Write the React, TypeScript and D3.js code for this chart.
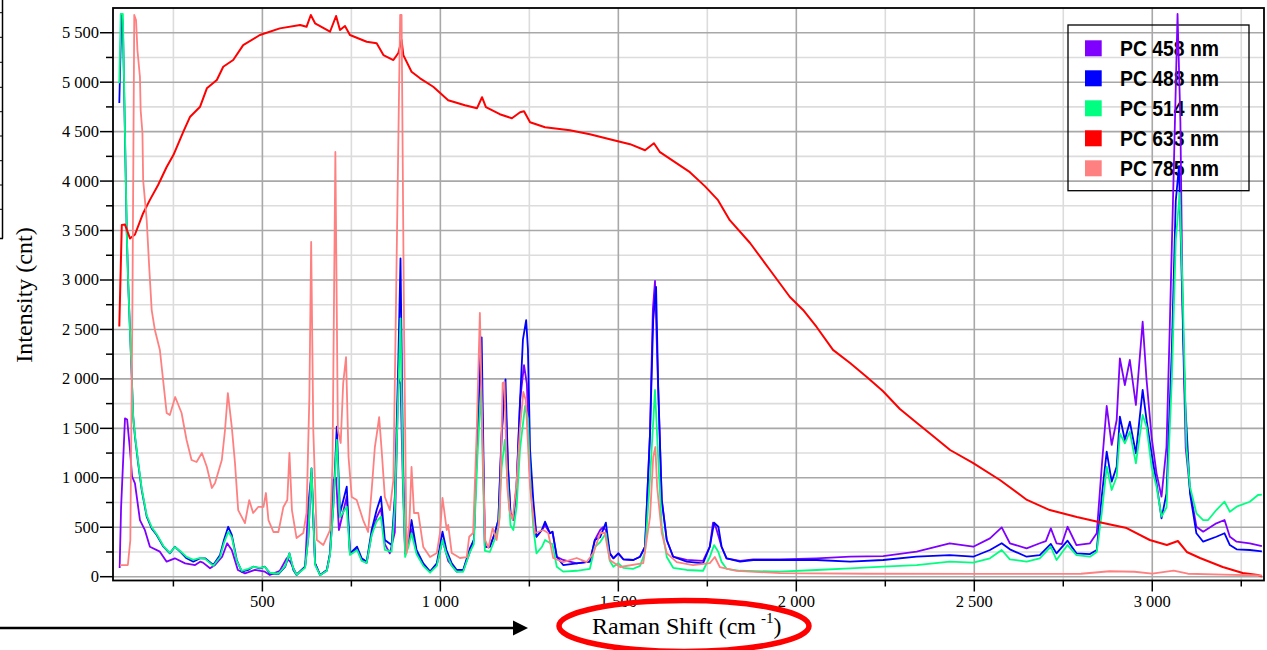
import React from 'react';
import * as d3 from 'd3';

// Raman spectra of polycarbonate at five excitation wavelengths: [shift cm-1, intensity cnt]
const pc458: [number, number][] = [
  [99,88],[103,700],[114,1601],[120,1590],[128,1281],[134,1011],[142,944],[156,573],[170,470],[184,303],[212,253],[231,152],[254,186],[283,135],[311,118],[325,152],[333,142],[353,85],[367,118],[387,202],[401,338],[414,270],[431,68],[451,34],[479,68],[507,51],[521,17],[549,60],[568,186],[578,152],[596,24],[620,101],[629,742],[638,1050],[648,135],[662,17],[681,60],[690,236],[699,978],[707,1000],[715,472],[737,809],[746,236],[766,280],[779,170],[793,140],[807,430],[821,600],[833,692],[844,330],[858,236],[872,450],[882,2000],[888,1950],[895,900],[901,236],[910,338],[919,480],[933,250],[952,120],[971,51],[990,120],[1006,371],[1022,160],[1046,51],[1064,60],[1083,250],[1094,371],[1104,1400],[1114,2350],[1125,303],[1139,303],[1153,439],[1163,573],[1172,1400],[1181,1960],[1190,1100],[1197,641],[1205,600],[1214,910],[1224,1786],[1235,2140],[1243,1950],[1252,1000],[1261,700],[1270,404],[1285,472],[1294,520],[1308,439],[1315,455],[1327,202],[1345,169],[1383,135],[1420,152],[1434,371],[1449,472],[1457,500],[1465,470],[1476,236],[1486,186],[1500,236],[1514,176],[1542,169],[1561,202],[1575,303],[1589,1450],[1597,2700],[1603,2990],[1611,2000],[1622,775],[1636,371],[1654,202],[1692,170],[1738,160],[1757,303],[1766,546],[1774,500],[1790,303],[1804,186],[1842,160],[1879,175],[1954,175],[2057,186],[2151,202],[2244,209],[2338,253],[2431,338],[2497,303],[2544,388],[2577,499],[2600,338],[2647,287],[2684,338],[2701,360],[2715,489],[2731,338],[2746,330],[2762,505],[2787,320],[2825,338],[2844,439],[2858,1112],[2872,1726],[2886,1332],[2900,1584],[2909,2208],[2923,1938],[2937,2191],[2954,1736],[2973,2578],[2984,1989],[2998,1415],[3012,1045],[3026,809],[3040,1314],[3049,2500],[3061,4200],[3071,5690],[3079,4600],[3086,2500],[3094,1300],[3106,877],[3124,505],[3143,455],[3180,540],[3203,573],[3218,404],[3237,354],[3274,338],[3308,310],
];

const pc488: [number, number][] = [
  [98,4790],[104,5690],[108,5600],[119,3473],[123,2966],[128,2494],[133,2022],[137,1618],[142,1415],[151,1146],[161,877],[175,607],[189,489],[203,422],[222,303],[240,236],[254,303],[269,253],[287,186],[306,152],[325,186],[339,186],[362,118],[381,219],[392,371],[404,505],[414,422],[428,169],[442,51],[460,68],[474,101],[493,85],[507,101],[521,34],[545,27],[564,101],[576,236],[587,68],[596,17],[620,101],[629,400],[638,1096],[648,135],[662,17],[681,68],[690,236],[699,700],[709,1517],[718,641],[737,910],[746,236],[766,303],[779,186],[793,152],[807,472],[821,674],[833,809],[844,371],[863,320],[872,809],[882,2200],[888,3219],[895,1200],[901,236],[910,350],[919,573],[933,270],[952,135],[971,51],[990,135],[1006,455],[1017,270],[1032,135],[1046,68],[1064,68],[1083,287],[1094,371],[1104,1450],[1116,2420],[1125,303],[1139,303],[1153,439],[1163,573],[1172,1450],[1183,1996],[1190,1112],[1197,641],[1205,573],[1214,910],[1224,1786],[1232,2400],[1241,2595],[1246,2300],[1252,1281],[1261,775],[1270,404],[1285,472],[1294,556],[1308,439],[1315,455],[1327,202],[1345,118],[1383,135],[1420,152],[1434,371],[1449,400],[1465,546],[1476,236],[1486,186],[1500,236],[1514,176],[1542,169],[1561,202],[1575,303],[1589,1450],[1598,2600],[1606,2930],[1612,1921],[1622,775],[1636,371],[1654,202],[1692,152],[1738,135],[1757,303],[1769,546],[1781,505],[1790,303],[1804,186],[1842,152],[1879,169],[1954,169],[2057,169],[2151,152],[2244,169],[2338,202],[2431,219],[2497,202],[2544,270],[2577,338],[2600,277],[2647,202],[2684,219],[2715,331],[2731,236],[2762,364],[2787,236],[2825,229],[2844,270],[2858,809],[2872,1264],[2886,961],[2900,1112],[2909,1618],[2923,1382],[2937,1567],[2954,1247],[2973,1888],[2984,1584],[2998,1247],[3012,944],[3026,590],[3040,843],[3055,2300],[3066,3800],[3075,4150],[3083,3000],[3092,1800],[3106,843],[3124,439],[3143,354],[3180,404],[3203,439],[3218,320],[3237,277],[3274,270],[3308,255],
];

const pc514: [number, number][] = [
  [98,4990],[102,5690],[108,5690],[119,3473],[123,2966],[128,2494],[133,2022],[137,1618],[142,1430],[151,1160],[161,890],[175,620],[189,500],[203,430],[222,310],[240,240],[254,300],[269,260],[287,200],[306,170],[325,190],[339,180],[362,110],[381,200],[392,340],[404,455],[414,400],[428,160],[442,60],[460,80],[474,100],[493,90],[507,100],[521,40],[545,30],[564,110],[576,236],[587,80],[596,20],[620,90],[629,400],[638,1096],[648,120],[662,15],[681,60],[690,220],[699,700],[709,1382],[718,600],[737,708],[746,220],[766,270],[779,160],[793,140],[807,420],[821,560],[833,607],[844,270],[863,253],[872,700],[882,1900],[888,2612],[895,1000],[901,200],[910,300],[919,439],[933,230],[952,110],[971,40],[990,110],[1006,371],[1017,230],[1032,110],[1046,50],[1064,50],[1083,250],[1094,330],[1104,1200],[1114,1888],[1125,260],[1139,250],[1153,380],[1163,500],[1172,1100],[1181,1382],[1190,900],[1197,520],[1205,472],[1214,700],[1224,1300],[1238,1726],[1246,1600],[1252,1000],[1261,500],[1270,236],[1285,300],[1294,371],[1308,340],[1315,330],[1327,101],[1345,51],[1383,60],[1420,80],[1434,300],[1449,350],[1465,439],[1476,160],[1486,100],[1500,135],[1514,90],[1542,80],[1561,110],[1575,250],[1589,1000],[1603,1888],[1612,1200],[1622,500],[1636,200],[1654,90],[1692,68],[1738,60],[1757,200],[1769,320],[1781,250],[1790,150],[1804,80],[1842,60],[1954,51],[2057,68],[2151,85],[2244,101],[2338,118],[2431,152],[2497,142],[2544,186],[2577,270],[2600,176],[2647,152],[2684,186],[2715,303],[2731,169],[2762,320],[2787,219],[2825,202],[2844,250],[2858,641],[2872,1112],[2886,877],[2900,1011],[2909,1450],[2923,1349],[2937,1466],[2954,1146],[2973,1635],[2984,1517],[2998,1112],[3012,910],[3026,607],[3040,700],[3055,2000],[3066,3400],[3077,3880],[3086,2800],[3096,1314],[3106,910],[3124,641],[3143,573],[3157,573],[3180,674],[3203,758],[3218,657],[3237,708],[3274,758],[3297,826],[3308,830],
];

const pc633: [number, number][] = [
  [98,2530],[105,3555],[114,3560],[128,3420],[142,3460],[165,3675],[184,3810],[207,3960],[231,4142],[250,4263],[278,4499],[297,4651],[325,4752],[344,4938],[372,5022],[390,5156],[418,5224],[446,5375],[493,5477],[549,5544],[606,5578],[624,5560],[636,5679],[648,5595],[690,5510],[707,5669],[718,5527],[732,5568],[746,5477],[793,5409],[821,5393],[840,5274],[868,5224],[882,5295],[891,5426],[896,5274],[919,5106],[943,5039],[980,4954],[1022,4818],[1069,4767],[1103,4737],[1117,4848],[1128,4747],[1167,4676],[1201,4635],[1224,4696],[1235,4706],[1252,4595],[1294,4545],[1364,4514],[1420,4474],[1476,4423],[1533,4373],[1575,4312],[1600,4383],[1617,4292],[1659,4191],[1701,4090],[1743,3949],[1780,3807],[1813,3605],[1870,3374],[1926,3101],[1982,2828],[2019,2697],[2057,2525],[2103,2293],[2151,2161],[2198,2020],[2243,1878],[2291,1696],[2339,1554],[2384,1423],[2432,1281],[2496,1150],[2572,978],[2648,776],[2712,674],[2788,604],[2862,543],[2928,492],[2993,371],[3041,320],[3072,361],[3097,250],[3134,189],[3198,98],[3254,37],[3297,17],[3308,2],
];

const pc785: [number, number][] = [
  [100,118],[122,118],[129,371],[135,2796],[140,5679],[145,5628],[149,5323],[156,5052],[158,4718],[163,4486],[165,4010],[175,3606],[182,3131],[189,2696],[198,2494],[212,2292],[222,1958],[231,1655],[240,1635],[255,1817],[273,1655],[287,1382],[301,1180],[315,1160],[330,1251],[344,1109],[358,897],[367,947],[386,1180],[395,1483],[403,1857],[414,1514],[423,1150],[432,674],[451,542],[463,775],[474,644],[488,705],[503,705],[510,846],[517,573],[531,452],[545,452],[559,705],[570,775],[576,1251],[583,674],[596,391],[615,442],[624,644],[632,1817],[637,3384],[643,1483],[653,371],[671,320],[690,472],[697,1150],[705,4294],[712,1483],[720,1352],[727,1958],[735,2221],[742,1210],[751,806],[765,775],[783,573],[797,452],[807,877],[816,1311],[823,1483],[828,1614],[835,1281],[844,806],[858,674],[868,978],[877,3172],[887,5679],[891,5679],[898,2494],[905,239],[913,542],[919,1109],[926,644],[938,644],[952,300],[971,199],[990,239],[999,442],[1006,796],[1018,472],[1022,523],[1032,239],[1055,189],[1074,199],[1081,404],[1092,442],[1102,1453],[1111,2666],[1119,1281],[1126,371],[1135,290],[1147,492],[1158,371],[1167,604],[1175,1958],[1180,1969],[1188,907],[1194,674],[1203,573],[1214,947],[1224,1514],[1233,1868],[1240,1786],[1252,907],[1266,442],[1289,472],[1303,442],[1317,189],[1345,148],[1383,189],[1411,148],[1430,239],[1449,442],[1462,442],[1476,169],[1505,98],[1570,138],[1589,604],[1598,1210],[1604,1311],[1609,907],[1622,442],[1636,239],[1664,148],[1710,118],[1757,138],[1771,199],[1785,98],[1832,58],[1954,37],[2200,30],[2500,28],[2800,30],[2880,55],[2950,50],[3000,32],[3060,62],[3100,30],[3200,20],[3308,12],
];

const seriesNames = ['PC 458 nm', 'PC 488 nm', 'PC 514 nm', 'PC 633 nm', 'PC 785 nm'];
const seriesColors = ['#8000ff', '#0000ff', '#00ff80', '#ff0000', '#ff8080'];
const seriesData = [pc458, pc488, pc514, pc633, pc785];

const xMajorTicks = [500, 1000, 1500, 2000, 2500, 3000];
const xMinorTicks = [250, 750, 1250, 1750, 2250, 2750, 3250];
const yMajorTicks = [0, 500, 1000, 1500, 2000, 2500, 3000, 3500, 4000, 4500, 5000, 5500];
const yMinorTicks = [250, 750, 1250, 1750, 2250, 2750, 3250, 3750, 4250, 4750, 5250];

const W = 1267;
const H = 650;
const plot = { left: 113, right: 1264, top: 8, bottom: 580.5 };

const serif = '"Liberation Serif", "Times New Roman", Times, serif';
const sans = '"Liberation Sans", Arial, Helvetica, sans-serif';

const fmt = d3.formatLocale({ decimal: ',', thousands: ' ', grouping: [3], currency: ['', ''] }).format(',');

export default function App() {
  const x = d3.scaleLinear().domain([80.3, 3313.9]).range([plot.left, plot.right]);
  const y = d3.scaleLinear().domain([-38.4, 5750]).range([plot.bottom, plot.top]);
  const line = d3
    .line<[number, number]>()
    .x((d) => x(d[0]))
    .y((d) => y(d[1]));

  return (
    <svg
      width={W}
      height={H}
      style={{ position: 'absolute', left: 0, top: 0, background: '#fff' }}
      xmlns="http://www.w3.org/2000/svg"
    >
      <rect x={0} y={0} width={W} height={H} fill="#fff" />

      {/* edge of a neighbouring panel */}
      <g stroke="#000" strokeWidth={1.5}>
        <line x1={2.5} y1={0} x2={2.5} y2={238.5} />
        <line x1={0} y1={238.5} x2={3} y2={238.5} />
        {[12.7, 37.3, 62.3, 87.3, 111.7, 136, 160.7, 185, 209.3].map((ty, i) => (
          <line key={i} x1={0} y1={ty} x2={2.5} y2={ty} strokeWidth={1} />
        ))}
      </g>

      {/* grid */}
      <g strokeWidth={1.6}>
        {xMinorTicks.map((t) => (
          <line key={'xm' + t} x1={x(t)} x2={x(t)} y1={plot.top} y2={plot.bottom} stroke="#dcdcdc" />
        ))}
        {yMinorTicks.map((t) => (
          <line key={'ym' + t} x1={plot.left} x2={plot.right} y1={y(t)} y2={y(t)} stroke="#dcdcdc" />
        ))}
        {xMajorTicks.map((t) => (
          <line key={'xM' + t} x1={x(t)} x2={x(t)} y1={plot.top} y2={plot.bottom} stroke="#a8a8a8" />
        ))}
        {yMajorTicks.map((t) => (
          <line key={'yM' + t} x1={plot.left} x2={plot.right} y1={y(t)} y2={y(t)} stroke="#a8a8a8" />
        ))}
      </g>

      {/* legend frame */}
      <rect x={1068} y={25} width={181} height={165.7} fill="none" stroke="#000" strokeWidth={1.3} />
      {seriesNames.map((name, i) => {
        const cy = 48.3 + i * 30;
        return (
          <g key={name}>
            <rect x={1085} y={cy - 8} width={16.7} height={16} fill={seriesColors[i]} />
            <text
              x={1120}
              y={cy + 8}
              fontFamily={sans}
              fontWeight="bold"
              fontSize={22}
              textLength={99}
              lengthAdjust="spacingAndGlyphs"
              fill="#000"
            >
              {name}
            </text>
          </g>
        );
      })}

      {/* spectra */}
      <defs>
        <clipPath id="plotClip">
          <rect x={plot.left} y={plot.top} width={plot.right - plot.left} height={plot.bottom - plot.top} />
        </clipPath>
      </defs>
      <g clipPath="url(#plotClip)" fill="none" strokeLinejoin="round">
        {seriesData.map((data, i) => (
          <path key={seriesNames[i]} d={line(data) ?? ''} stroke={seriesColors[i]} strokeWidth={i === 3 ? 2 : 1.8} />
        ))}
      </g>

      {/* frame and axes */}
      <rect
        x={plot.left}
        y={plot.top}
        width={plot.right - plot.left}
        height={plot.bottom - plot.top}
        fill="none"
        stroke="#000"
        strokeWidth={1.8}
      />

      {/* ticks */}
      <g stroke="#000" strokeWidth={1.5}>
        {yMajorTicks.map((t) => (
          <line key={'yt' + t} x1={plot.left - 13} x2={plot.left} y1={y(t)} y2={y(t)} />
        ))}
        {yMinorTicks.map((t) => (
          <line key={'ymt' + t} x1={plot.left - 7} x2={plot.left} y1={y(t)} y2={y(t)} />
        ))}
        {xMajorTicks.map((t) => (
          <line key={'xt' + t} x1={x(t)} x2={x(t)} y1={plot.bottom} y2={plot.bottom + 11} />
        ))}
        {xMinorTicks.map((t) => (
          <line key={'xmt' + t} x1={x(t)} x2={x(t)} y1={plot.bottom} y2={plot.bottom + 6} />
        ))}
      </g>

      <g fontFamily={serif} fontSize={16.5} fill="#000">
        {yMajorTicks.map((t) => (
          <text key={'yl' + t} x={plot.left - 14} y={y(t) + 5.5} textAnchor="end">
            {fmt(t)}
          </text>
        ))}
        {xMajorTicks.map((t) => (
          <text key={'xl' + t} x={x(t)} y={606.5} textAnchor="middle">
            {fmt(t)}
          </text>
        ))}
      </g>

      {/* axis titles */}
      <text
        transform="translate(32,295) rotate(-90)"
        textAnchor="middle"
        fontFamily={serif}
        fontSize={24}
        fill="#000"
      >
        Intensity (cnt)
      </text>
      <text x={592} y={634} fontFamily={serif} fontSize={24} fill="#000">
        Raman Shift (cm
        <tspan dx={5} dy={-11} fontSize={15}>-1</tspan>
        <tspan dy={11}>)</tspan>
      </text>

      {/* annotation: arrow and highlight ellipse */}
      <line x1={0} y1={628} x2={515} y2={628} stroke="#000" strokeWidth={2.5} />
      <path d="M513,620.5 L528,628 L513,635.5 Z" fill="#000" />
      <ellipse cx={684} cy={626} rx={125} ry={25.5} fill="none" stroke="#ff0000" strokeWidth={5.5} />
    </svg>
  );
}
